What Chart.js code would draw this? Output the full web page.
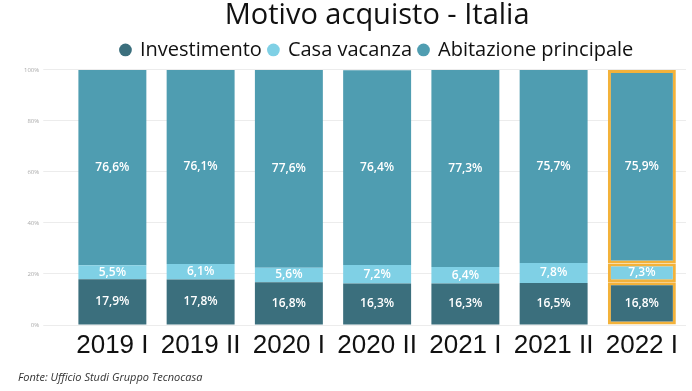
<!DOCTYPE html>
<html>
<head>
<meta charset="utf-8">
<script src="https://cdn.jsdelivr.net/npm/chart.js@4"></script>
<style>
  html, body { margin: 0; padding: 0; background: #fff; }
  #wrap { position: relative; width: 692px; height: 391px; }
  #fonte { position: absolute; left: 18px; top: 369px; font: italic 11px "Open Sans", sans-serif; color: #333; }
</style>
</head>
<body>
<div id="wrap">
  <canvas id="chart" width="692" height="391"></canvas>
  <div id="fonte">Fonte: Ufficio Studi Gruppo Tecnocasa</div>
</div>
<script>
const periods = ['2019 I', '2019 II', '2020 I', '2020 II', '2021 I', '2021 II', '2022 I'];
const investimento = [17.9, 17.8, 16.8, 16.3, 16.3, 16.5, 16.8];
const casaVacanza = [5.5, 6.1, 5.6, 7.2, 6.4, 7.8, 7.3];
const abitazione = [76.6, 76.1, 77.6, 76.4, 77.3, 75.7, 75.9];
const yTicks = [0, 20, 40, 60, 80, 100];

const highlight = periods.length - 1; // ultimo semestre evidenziato
const orange = '#f3b23a';

function borderColors() {
  return periods.map((p, i) => i === highlight ? orange : 'rgba(0,0,0,0)');
}
function borderWidths() {
  return periods.map((p, i) => i === highlight ? 3 : 0);
}

// etichette dei valori dentro i segmenti
const valueLabels = {
  id: 'valueLabels',
  afterDatasetsDraw(chart) {
    const ctx = chart.ctx;
    ctx.save();
    ctx.fillStyle = '#ffffff';
    ctx.font = '600 12px "Open Sans", sans-serif';
    ctx.textAlign = 'center';
    ctx.textBaseline = 'middle';
    chart.data.datasets.forEach((ds, di) => {
      const meta = chart.getDatasetMeta(di);
      meta.data.forEach((bar, i) => {
        const txt = ds.data[i].toFixed(1).replace('.', ',') + '%';
        ctx.fillText(txt, bar.x, (bar.y + bar.base) / 2);
      });
    });
    ctx.restore();
  }
};

new Chart(document.getElementById('chart'), {
  type: 'bar',
  data: {
    labels: periods,
    datasets: [
      { label: 'Investimento', data: investimento, backgroundColor: '#3b6f7d',
        borderColor: borderColors(), borderWidth: borderWidths(), borderSkipped: false },
      { label: 'Casa vacanza', data: casaVacanza, backgroundColor: '#7fd0e5',
        borderColor: borderColors(), borderWidth: borderWidths(), borderSkipped: false },
      { label: 'Abitazione principale', data: abitazione, backgroundColor: '#4f9db1',
        borderColor: borderColors(), borderWidth: borderWidths(), borderSkipped: false },
    ],
  },
  options: {
    responsive: false,
    animation: false,
    barPercentage: 0.77,
    categoryPercentage: 1,
    layout: { padding: { left: 20, right: 6, top: 0, bottom: 32 } },
    plugins: {
      title: {
        display: true,
        fullSize: false,
        text: 'Motivo acquisto - Italia',
        color: '#111',
        font: { family: '"Open Sans", sans-serif', size: 29, weight: 'normal', lineHeight: 1.1 },
        padding: { top: 0, bottom: 1 },
      },
      legend: {
        display: true,
        fullSize: false,
        labels: {
          usePointStyle: true,
          pointStyle: 'circle',
          boxWidth: 9,
          boxHeight: 9,
          color: '#111',
          padding: 7,
          font: { family: '"Open Sans", sans-serif', size: 20 },
        },
      },
      tooltip: { enabled: false },
    },
    scales: {
      x: {
        stacked: true,
        grid: { display: false },
        border: { display: false },
        ticks: {
          color: '#111',
          padding: 0,
          maxRotation: 0,
          minRotation: 0,
          autoSkip: false,
          font: { family: '"Liberation Sans", sans-serif', size: 26, lineHeight: 1.0 },
        },
      },
      y: {
        stacked: true,
        min: 0,
        max: 100,
        afterBuildTicks: axis => { axis.ticks = yTicks.map(v => ({ value: v })); },
        grid: { color: '#ececec', tickLength: 25, tickColor: '#ececec' },
        border: { display: false },
        ticks: {
          color: '#aaa',
          padding: 4,
          font: { family: '"Open Sans", sans-serif', size: 6 },
          callback: v => v + '%',
        },
      },
    },
  },
  plugins: [valueLabels],
});
</script>
</body>
</html>
